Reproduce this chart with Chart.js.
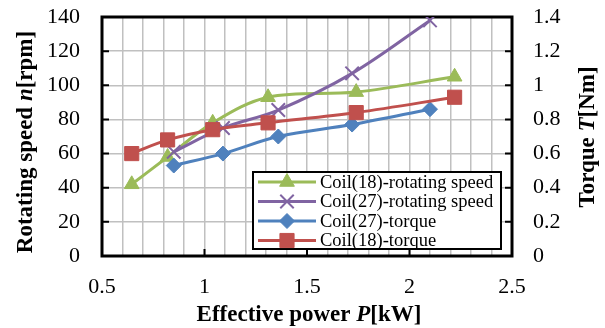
<!DOCTYPE html>
<html>
<head>
<meta charset="utf-8">
<script src="https://cdn.jsdelivr.net/npm/chart.js@4.4.1/dist/chart.umd.min.js"></script>
<style>
  body { margin: 0; background: #fff; }
  #wrap { width: 605px; height: 328px; }
</style>
</head>
<body>
<div id="wrap"><canvas id="myChart"></canvas></div>
<script>
// effective power P [kW] for each measurement
const coil18Power = [0.645, 0.82, 1.04, 1.31, 1.74, 2.22]
const coil27Power = [0.85, 1.09, 1.36, 1.72, 2.10]
// rotating speed n [rpm] (left axis)
const coil18Speed = [42, 58, 78, 93, 96, 105]
const coil27Speed = [61, 75, 85.5, 107, 138]
// torque T [Nm] (right axis)
const coil27Torque = [0.53, 0.60, 0.70, 0.77, 0.86]
const coil18Torque = [0.60, 0.68, 0.74, 0.78, 0.84, 0.93]
const seriesNames = ['Coil(18)-rotating speed', 'Coil(27)-rotating speed', 'Coil(27)-torque', 'Coil(18)-torque']
const xLabelTicks = [0.5, 1, 1.5, 2, 2.5]

const SERIF = '"Liberation Serif", "Times New Roman", serif'

const toXY = (xs, ys) => xs.map((x, i) => ({x: x, y: ys[i]}))

const line = (label, color, xs, ys, axis, style, radius, order) => ({
    label: label,
    data: toXY(xs, ys),
    yAxisID: axis,
    showLine: true,
    borderColor: color,
    backgroundColor: color,
    borderWidth: 3,
    tension: 0.35,
    pointStyle: style,
    pointRadius: radius,
    pointHoverRadius: radius,
    pointBorderWidth: style === 'crossRot' ? 2 : 1,
    pointBorderColor: color,
    pointBackgroundColor: color,
    order: order
})

// titles with an italic letter in the middle
const drawRuns = (ctx, runs, cx, cy, rot) => {
    ctx.save()
    ctx.translate(cx, cy)
    ctx.rotate(rot)
    ctx.fillStyle = '#000'
    ctx.textBaseline = 'middle'
    ctx.textAlign = 'left'
    let total = 0
    runs.forEach(r => { ctx.font = r.font; total += ctx.measureText(r.text).width })
    let x = -total / 2
    runs.forEach(r => {
        ctx.font = r.font
        ctx.fillText(r.text, x, 0)
        x += ctx.measureText(r.text).width
    })
    ctx.restore()
}

const framePlugin = {
    id: 'frame',
    beforeDatasetsDraw(chart) {
        const {ctx, chartArea: a, scales} = chart
        ctx.save()
        ctx.strokeStyle = '#000'
        ctx.lineWidth = 2
        // inner tick marks
        ctx.beginPath()
        for (let v = 20; v < 140; v += 20) {
            const y = scales.y.getPixelForValue(v)
            ctx.moveTo(a.left, y); ctx.lineTo(a.left + 7, y)
        }
        for (let v = 0.2; v < 1.39; v += 0.2) {
            const y = scales.y1.getPixelForValue(v)
            ctx.moveTo(a.right, y); ctx.lineTo(a.right - 7, y)
        }
        xLabelTicks.forEach(v => {
            const x = scales.x.getPixelForValue(v)
            ctx.moveTo(x, a.bottom); ctx.lineTo(x, a.bottom - 7)
        })
        ctx.stroke()
        ctx.lineWidth = 3
        ctx.strokeRect(a.left, a.top, a.right - a.left, a.bottom - a.top)
        ctx.restore()
    },
    afterDraw(chart) {
        const {ctx, chartArea: a} = chart
        const b = 'bold 23px ' + SERIF, bi = 'italic bold 23px ' + SERIF
        drawRuns(ctx, [{text: 'Effective power ', font: b}, {text: 'P', font: bi}, {text: '[kW]', font: b}],
            (a.left + a.right) / 2 + 2, 315, 0)
        drawRuns(ctx, [{text: 'Rotating speed ', font: b}, {text: 'n', font: bi}, {text: '[rpm]', font: b}],
            26, 142, -Math.PI / 2)
        drawRuns(ctx, [{text: 'Torque ', font: b}, {text: 'T', font: bi}, {text: '[Nm]', font: b}],
            588, 137, -Math.PI / 2)

        // legend box inside the plot
        const bx = 253, by = 172, bw = 248, bh = 77, rowH = 19.5
        ctx.save()
        ctx.fillStyle = '#fff'
        ctx.fillRect(bx, by, bw, bh)
        ctx.strokeStyle = '#000'
        ctx.lineWidth = 2
        ctx.strokeRect(bx, by, bw, bh)
        chart.data.datasets.forEach((ds, i) => {
            const y = by + 10 + i * rowH
            ctx.strokeStyle = ds.borderColor
            ctx.fillStyle = ds.backgroundColor
            ctx.lineWidth = 3
            ctx.beginPath()
            ctx.moveTo(bx + 5, y); ctx.lineTo(bx + 63, y)
            ctx.stroke()
            if (Chart.helpers && Chart.helpers.drawPoint) {
                ctx.lineWidth = ds.pointBorderWidth
                Chart.helpers.drawPoint(ctx, {pointStyle: ds.pointStyle, radius: ds.pointRadius, rotation: 0, borderWidth: ds.pointBorderWidth}, bx + 34, y)
            }
            ctx.fillStyle = '#000'
            ctx.font = '18.5px ' + SERIF
            ctx.textBaseline = 'middle'
            ctx.textAlign = 'left'
            ctx.fillText(ds.label, bx + 67, y + 1)
        })
        ctx.restore()
    }
}

// fixed axis sizes so the plot sits where it does in the figure
const fixV = w => s => { s.width = w; s.paddingTop = 0; s.paddingBottom = 0 }

const config = {
    type: 'scatter',
    data: {
        datasets: [
            line(seriesNames[0], '#9BBB59', coil18Power, coil18Speed, 'y', 'triangle', 8.5, 3),
            line(seriesNames[1], '#8064A2', coil27Power, coil27Speed, 'y', 'crossRot', 9.5, 2),
            line(seriesNames[2], '#4F81BD', coil27Power, coil27Torque, 'y1', 'rectRot', 7.5, 1),
            line(seriesNames[3], '#C0504D', coil18Power, coil18Torque, 'y1', 'rect', 10, 0)
        ]
    },
    options: {
        responsive: true,
        maintainAspectRatio: false,
        animation: false,
        layout: {padding: {top: 17, left: 0, right: 0, bottom: 0}},
        plugins: {legend: {display: false}, tooltip: {enabled: false}},
        scales: {
            x: {
                type: 'linear', min: 0.5, max: 2.5,
                afterFit: s => { s.height = 72; s.paddingLeft = 0; s.paddingRight = 0 },
                grid: {color: '#c0c0c0', lineWidth: 1.5, drawTicks: false},
                border: {display: false},
                ticks: {
                    stepSize: 0.1, autoSkip: false, maxRotation: 0, padding: 18,
                    color: '#000', font: {family: SERIF, size: 22},
                    callback: v => {
                        const r = Math.round(v * 10) / 10
                        return xLabelTicks.some(t => Math.abs(t - r) < 1e-6) ? String(r) : ''
                    }
                }
            },
            y: {
                position: 'left', min: 0, max: 140,
                afterFit: fixV(102),
                grid: {color: '#c0c0c0', lineWidth: 1.5, drawTicks: false},
                border: {display: false},
                ticks: {stepSize: 20, padding: 22, color: '#000', font: {family: SERIF, size: 22}}
            },
            y1: {
                position: 'right', min: 0, max: 1.4,
                afterFit: fixV(93),
                grid: {drawOnChartArea: false, drawTicks: false},
                border: {display: false},
                ticks: {
                    stepSize: 0.2, padding: 21, color: '#000', font: {family: SERIF, size: 22},
                    callback: v => String(Math.round(v * 10) / 10)
                }
            }
        }
    },
    plugins: [framePlugin]
}

const myChart = new Chart(document.getElementById('myChart'), config)
</script>
</body>
</html>
